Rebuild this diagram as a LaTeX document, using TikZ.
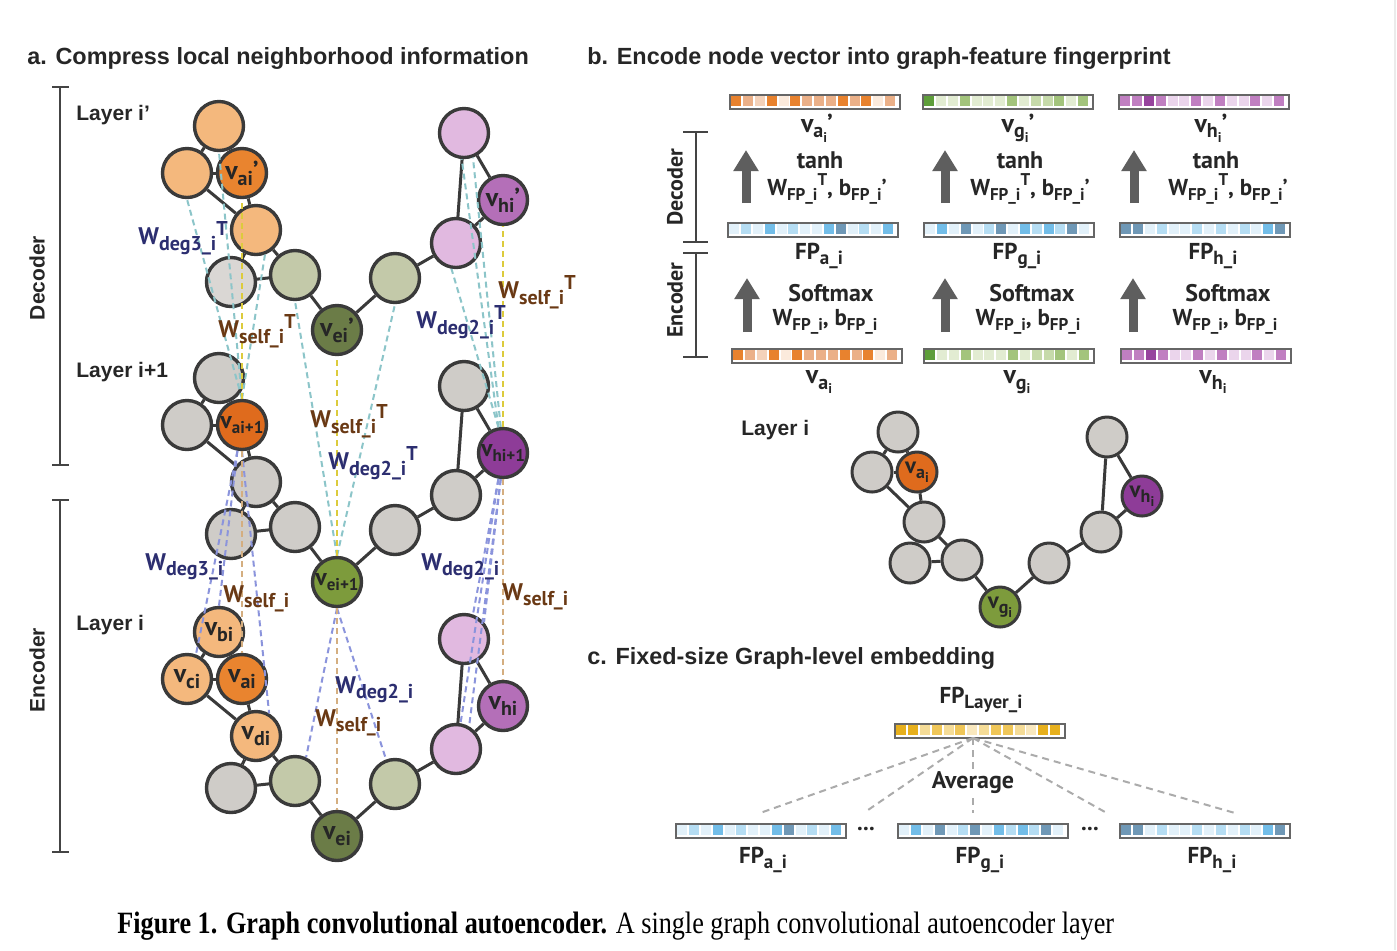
\documentclass[tikz,border=0pt]{standalone}
\usepackage{fontspec}
\setmainfont{Liberation Sans}
\newfontfamily\pts{PT Sans}
\newfontfamily\tms{Liberation Serif}
\usetikzlibrary{arrows.meta,calc}
\definecolor{ndraw}{HTML}{3A3A3A}
\definecolor{labc}{HTML}{262626}
\definecolor{lor}{HTML}{F4B87D}
\definecolor{mor}{HTML}{E9842F}
\definecolor{oor}{HTML}{DF6B1D}
\definecolor{lgr}{HTML}{CFCCC8}
\definecolor{lgrb}{HTML}{DAD7D4}
\definecolor{sage}{HTML}{C3C9A9}
\definecolor{dgrn}{HTML}{6B7C47}
\definecolor{mgrn}{HTML}{7D9B3C}
\definecolor{lpk}{HTML}{E1B9E0}
\definecolor{mpur}{HTML}{B46FB8}
\definecolor{dpur}{HTML}{8E3C98}
\definecolor{teall}{HTML}{8CC5C9}
\definecolor{yell}{HTML}{DCCB3C}
\definecolor{bluel}{HTML}{8B94DC}
\definecolor{tanl}{HTML}{D4AE80}
\definecolor{navyc}{HTML}{2C2E70}
\definecolor{brownc}{HTML}{6A3914}
\definecolor{bargray}{HTML}{666666}
\definecolor{arrgray}{HTML}{5E5E5E}
\definecolor{dgray}{HTML}{444444}
\definecolor{avgray}{HTML}{ABABAB}
% vector cell colours
\definecolor{Oa}{HTML}{E8822E}
\definecolor{Ob}{HTML}{EBB088}
\definecolor{Oc}{HTML}{F4D2BA}
\definecolor{Od}{HTML}{FBEADC}
\definecolor{Ga}{HTML}{5E9E3A}
\definecolor{Gb}{HTML}{A3C47C}
\definecolor{Gc}{HTML}{C6DAAA}
\definecolor{Gd}{HTML}{E2ECD2}
\definecolor{Pa}{HTML}{97449E}
\definecolor{Pb}{HTML}{C07FC1}
\definecolor{Pc}{HTML}{EBD5EC}
\definecolor{Ba}{HTML}{E2F1FA}
\definecolor{Bb}{HTML}{B5DDF3}
\definecolor{Bc}{HTML}{72BDE8}
\definecolor{Bd}{HTML}{6F98B6}
\definecolor{Ya}{HTML}{E7B01D}
\definecolor{Yb}{HTML}{EFC658}
\definecolor{Yc}{HTML}{F5DC97}
\definecolor{Yd}{HTML}{F9E8BE}

\newcommand\fs[1]{\fontsize{#1}{#1}\selectfont}
\newcommand\lowsub[2]{\raisebox{-0.45ex}{\fs{#1}#2}}
\newcommand\highsup[2]{\raisebox{0.8ex}{\fs{#1}#2}}
% node label in left graphs
\newcommand\vl[3][10]{v\lowsub{#1}{#2}#3}
% v_{x_i}
\newcommand\vxi[3]{v\raisebox{-0.45ex}{\fs{#1}#2\raisebox{-0.45ex}{\fs{7}i}}#3}
\newcommand\Wlab[2]{W\lowsub{10}{#1}\highsup{10}{#2}}
\newcommand\FPlab[1]{FP\lowsub{9.5}{#1}}

\tikzset{
  gn/.style={circle, draw=ndraw, line width=1.7pt, minimum size=24.5pt, inner sep=0pt,
     text=labc, font=\pts\bfseries\fs{13}},
  sn/.style={gn, minimum size=20pt, line width=1.5pt, font=\pts\bfseries\fs{11.5}},
  ed/.style={draw=ndraw, line width=1.5pt},
  dteal/.style={draw=teall, dash pattern=on 3pt off 2pt, line width=1pt},
  dyel/.style={dteal, draw=yell},
  dblue/.style={dteal, draw=bluel},
  dtan/.style={dteal, draw=tanl},
  navy/.style={text=navyc, font=\pts\bfseries\fs{12}, inner sep=0pt, anchor=west},
  brown/.style={navy, text=brownc},
  ttl/.style={font=\bfseries\fs{11.7}, inner sep=0pt, anchor=west, text=labc},
  lay/.style={font=\bfseries\fs{10.5}, inner sep=0pt, anchor=west, text=labc},
  side/.style={font=\bfseries\fs{10.5}, inner sep=0pt, rotate=90, text=labc},
  sideb/.style={font=\pts\bfseries\fs{11}, inner sep=0pt, rotate=90, text=labc},
  bk/.style={draw=dgray, line width=0.8pt},
  barbox/.style={rectangle, draw=bargray, line width=1pt, fill=white, minimum width=85pt,
     minimum height=7pt, inner sep=0pt, anchor=north west},
  txb/.style={font=\pts\bfseries\fs{11.5}, inner sep=0pt, text=labc},
  bigarrow/.style={draw=arrgray, line width=4.5pt, -{Triangle[length=10.5pt,width=12pt]}},
  avl/.style={draw=avgray, dash pattern=on 3.5pt off 2.5pt, line width=1pt},
}

\newcommand\vbar[4]{%
  \node[barbox] (#1) at (#2,#3) {};
  \foreach \c [count=\i from 0] in {#4} {
    \pgfmathsetmacro\xa{#2+2.3+\i*11.83}
    \fill[\c] (\xa,#3+2.4) rectangle ++(10,9.2);
  }
}

\begin{document}
\begin{tikzpicture}[x=0.5pt,y=-0.5pt]
\useasboundingbox (0,0) rectangle (1397,950);
\fill[white] (0,0) rectangle (1397,950);
\draw[draw=black!8, line width=1pt] (1395,0) -- (1395,950);

% ---------- titles ----------
\node[ttl] (ta) at (27,58) {a. Compress local neighborhood information};
\node[ttl] (tb) at (587,58) {b. Encode node vector into graph-feature fingerprint};
\node[ttl] (tc) at (587,658) {c. Fixed-size Graph-level embedding};

% ---------- panel a brackets ----------
\coordinate (dk1) at (60,87); \coordinate (dk2) at (60,465);
\draw[bk] (dk1) -- (dk2);
\draw[bk] (52,87) -- (69,87); \draw[bk] (52,465) -- (69,465);
\coordinate (ek1) at (60,500); \coordinate (ek2) at (60,852);
\draw[bk] (ek1) -- (ek2);
\draw[bk] (52,500) -- (69,500); \draw[bk] (52,852) -- (69,852);
\node[side] (decA) at (37,278) {Decoder};
\node[side] (encA) at (37,670) {Encoder};
\node[lay] (lA) at (76,115) {Layer i’};
\node[lay] (lB) at (76,372) {Layer i+1};
\node[lay] (lC) at (76,625) {Layer i};

% ---------- Layer i' ----------
\node[gn, fill=lor] (At) at (219,126) {};
\node[gn, fill=lor] (Al) at (187,173) {};
\node[gn, fill=mor] (Aa) at (242,173) {\vl{ai}{’}};
\node[gn, fill=lor] (Am) at (256,230) {};
\node[gn, fill=lgrb] (Abl) at (231,282) {};
\node[gn, fill=sage] (Abr) at (295,275) {};
\node[gn, fill=dgrn] (Ae) at (337,330) {\vl{ei}{’}};
\node[gn, fill=sage] (Ar) at (395,278) {};
\node[gn, fill=lpk] (Ar2) at (456,243) {};
\node[gn, fill=mpur] (Ah) at (503,200) {\vl{hi}{’}};
\node[gn, fill=lpk] (Atr) at (464,133) {};

% ---------- Layer i+1 ----------
\node[gn, fill=lgr] (Bt) at (219,378) {};
\node[gn, fill=lgr] (Bl) at (187,425) {};
\node[gn, fill=oor, font=\pts\bfseries\fs{12}] (Ba) at (242,425) {\vl[8.5]{ai+1}{}};
\node[gn, fill=lgr] (Bm) at (256,482) {};
\node[gn, fill=lgr] (Bbl) at (231,534) {};
\node[gn, fill=lgr] (Bbr) at (295,527) {};
\node[gn, fill=mgrn, font=\pts\bfseries\fs{12}] (Be) at (337,582) {\vl[8.5]{ei+1}{}};
\node[gn, fill=lgr] (Br) at (395,530) {};
\node[gn, fill=lgr] (Br2) at (456,495) {};
\node[gn, fill=dpur, font=\pts\bfseries\fs{12}] (Bh) at (503,453) {\vl[8.5]{hi+1}{}};
\node[gn, fill=lgr] (Btr) at (464,386) {};

% ---------- Layer i ----------
\node[gn, fill=lor] (Ct) at (219,632) {\vl{bi}{}};
\node[gn, fill=lor] (Cl) at (187,679) {\vl{ci}{}};
\node[gn, fill=mor] (Ca) at (242,679) {\vl{ai}{}};
\node[gn, fill=lor] (Cm) at (256,736) {\vl{di}{}};
\node[gn, fill=lgr] (Cbl) at (231,788) {};
\node[gn, fill=sage] (Cbr) at (295,781) {};
\node[gn, fill=dgrn] (Ce) at (337,836) {\vl{ei}{}};
\node[gn, fill=sage] (Cr) at (395,784) {};
\node[gn, fill=lpk] (Cr2) at (456,749) {};
\node[gn, fill=mpur] (Ch) at (503,706) {\vl{hi}{}};
\node[gn, fill=lpk] (Ctr) at (464,639) {};

% ---------- Layer i (panel b) ----------
\node[lay] (lD) at (741,430) {Layer i};
\node[sn, fill=lgr] (Dt) at (898,432) {};
\node[sn, fill=lgr] (Dl) at (872,472) {};
\node[sn, fill=oor] (Da) at (917,472) {\vxi{9}{a}{}};
\node[sn, fill=lgr] (Dm) at (924,522) {};
\node[sn, fill=lgr] (Dbl) at (910,563) {};
\node[sn, fill=lgr] (Dbr) at (962,560) {};
\node[sn, fill=mgrn] (De) at (1000,607) {\vxi{9}{g}{}};
\node[sn, fill=lgr] (Dr) at (1049,563) {};
\node[sn, fill=lgr] (Dr2) at (1101,532) {};
\node[sn, fill=dpur] (Dh) at (1142,496) {\vxi{9}{h}{}};
\node[sn, fill=lgr] (Dtr) at (1107,437) {};

% edges
\foreach \p in {A,B,C,D}{
  \foreach \u/\v in {t/l,t/a,l/a,l/m,a/m,m/bl,m/br,bl/br,br/e,e/r,r/r2,r2/h,r2/tr,tr/h}{
    \draw[ed] (\p\u) -- (\p\v);
  }
}

% ---------- dashed links: decoder ----------
\draw[dteal] (Ba.north) -- (Al.south);
\draw[dteal] (Ba.north) -- (At.south);
\draw[dteal] (Ba.north) -- (Am.-70);
\draw[dyel] (Ba.north) -- (Aa.south);
\draw[dteal] (Be.north) -- (Abr.south);
\draw[dteal] (Be.north) -- (Ar.south);
\draw[dyel] (Be.north) -- (Ae.south);
\draw[dteal] (Bh.100) -- (Atr.-95);
\draw[dteal] (Bh.95) -- (Atr.-70);
\draw[dteal] (Bh.100) -- (Ar2.-100);
\draw[dyel] (Bh.north) -- (Ah.south);
% ---------- dashed links: encoder ----------
\draw[dblue] (Ba.-100) -- (Ct.north);
\draw[dblue] (Ba.-100) -- (Cl.70);
\draw[dblue] (Ba.-90) -- (Cm.60);
\draw[dtan] (Ba.south) -- (Ca.north);
\draw[dblue] (Be.south) -- (Cbr.65);
\draw[dblue] (Be.south) -- (Cr.110);
\draw[dtan] (Be.south) -- (Ce.north);
\draw[dblue] (Bh.-100) -- (Ctr.70);
\draw[dblue] (Bh.-95) -- (Ctr.40);
\draw[dblue] (Bh.-100) -- (Cr2.80);
\draw[dblue] (Bh.-95) -- (Cr2.60);
\draw[dtan] (Bh.south) -- (Ch.north);

% ---------- W labels ----------
\node[navy] (w1) at (138,238) {\Wlab{deg3\_i}{T}};
\node[brown] (w2) at (218,331) {\Wlab{self\_i}{T}};
\node[navy] (w3) at (416,322) {\Wlab{deg2\_i}{T}};
\node[brown] (w4) at (498,292) {\Wlab{self\_i}{T}};
\node[brown] (w5) at (310,421) {\Wlab{self\_i}{T}};
\node[navy] (w6) at (328,463) {\Wlab{deg2\_i}{T}};
\node[navy] (w7) at (145,567) {\Wlab{deg3\_i}{}};
\node[brown] (w8) at (223,599) {\Wlab{self\_i}{}};
\node[navy] (w9) at (421,567) {\Wlab{deg2\_i}{}};
\node[brown] (w10) at (502,597) {\Wlab{self\_i}{}};
\node[navy] (w11) at (335,690) {\Wlab{deg2\_i}{}};
\node[brown] (w12) at (315,723) {\Wlab{self\_i}{}};

% ---------- panel b ----------
\coordinate (bd1) at (696,132); \coordinate (bd2) at (696,242);
\draw[bk] (bd1) -- (bd2);
\draw[bk] (683,132) -- (708,132); \draw[bk] (683,242) -- (708,242);
\coordinate (be1) at (696,253); \coordinate (be2) at (696,357);
\draw[bk] (be1) -- (be2);
\draw[bk] (683,253) -- (708,253); \draw[bk] (683,357) -- (708,357);
\node[sideb] (decB) at (675,187) {Decoder};
\node[sideb] (encB) at (675,300) {Encoder};

\vbar{vaT}{729}{94}{Oa,Ob,Oc,Oa,Od,Oa,Ob,Ob,Ob,Oa,Ob,Oa,Od,Ob}
\vbar{vgT}{922}{94}{Ga,Gd,Gd,Gb,Gd,Gd,Gd,Gb,Gd,Gc,Gc,Gb,Gd,Gb}
\vbar{vhT}{1118}{94}{Pb,Pb,Pa,Pb,Pc,Pc,Pb,Pc,Pb,Pc,Pc,Pb,Pc,Pb}
\vbar{fpa}{727}{222}{Ba,Bb,Ba,Bc,Ba,Bb,Ba,Ba,Bc,Bd,Ba,Bb,Ba,Bc}
\vbar{fpg}{923}{222}{Ba,Bc,Ba,Bd,Ba,Bb,Bd,Ba,Bc,Bb,Bc,Bb,Bd,Ba}
\vbar{fph}{1119}{222}{Bd,Bd,Ba,Bb,Ba,Ba,Bb,Ba,Bb,Ba,Bb,Ba,Bc,Bd}
\vbar{vaB}{731}{348}{Oa,Ob,Oc,Oa,Od,Oa,Ob,Ob,Ob,Oa,Ob,Oa,Od,Ob}
\vbar{vgB}{923}{348}{Ga,Gd,Gd,Gb,Gd,Gd,Gd,Gb,Gd,Gc,Gc,Gb,Gd,Gb}
\vbar{vhB}{1120}{348}{Pb,Pb,Pa,Pb,Pc,Pc,Pb,Pc,Pb,Pc,Pc,Pb,Pc,Pb}

\node[txb, font=\pts\bfseries\fs{13}] (la1) at (817,128) {\vxi{10}{a}{’}};
\node[txb, font=\pts\bfseries\fs{13}] (la2) at (1018,128) {\vxi{10}{g}{’}};
\node[txb, font=\pts\bfseries\fs{13}] (la3) at (1211,128) {\vxi{10}{h}{’}};
\node[txb, font=\pts\bfseries\fs{12}] (th1) at (820,160) {tanh};
\node[txb, font=\pts\bfseries\fs{12}] (th2) at (1020,160) {tanh};
\node[txb, font=\pts\bfseries\fs{12}] (th3) at (1216,160) {tanh};
\node[txb] (wt1) at (827,189) {W\lowsub{8.5}{FP\_i}\highsup{8.5}{T}, b\lowsub{8.5}{FP\_i}’};
\node[txb] (wt2) at (1030,189) {W\lowsub{8.5}{FP\_i}\highsup{8.5}{T}, b\lowsub{8.5}{FP\_i}’};
\node[txb] (wt3) at (1228,189) {W\lowsub{8.5}{FP\_i}\highsup{8.5}{T}, b\lowsub{8.5}{FP\_i}’};
\node[txb] (fl1) at (819,256) {\FPlab{a\_i}};
\node[txb] (fl2) at (1017,256) {\FPlab{g\_i}};
\node[txb] (fl3) at (1213,256) {\FPlab{h\_i}};
\node[txb, font=\pts\bfseries\fs{12}] (sm1) at (831,293) {Softmax};
\node[txb, font=\pts\bfseries\fs{12}] (sm2) at (1032,293) {Softmax};
\node[txb, font=\pts\bfseries\fs{12}] (sm3) at (1228,293) {Softmax};
\node[txb] (wb1) at (825,322) {W\lowsub{8.5}{FP\_i}, b\lowsub{8.5}{FP\_i}};
\node[txb] (wb2) at (1028,322) {W\lowsub{8.5}{FP\_i}, b\lowsub{8.5}{FP\_i}};
\node[txb] (wb3) at (1225,322) {W\lowsub{8.5}{FP\_i}, b\lowsub{8.5}{FP\_i}};
\node[txb, font=\pts\bfseries\fs{13}] (lb1) at (819,382) {\vxi{10}{a}{}};
\node[txb, font=\pts\bfseries\fs{13}] (lb2) at (1017,382) {\vxi{10}{g}{}};
\node[txb, font=\pts\bfseries\fs{13}] (lb3) at (1213,382) {\vxi{10}{h}{}};

\coordinate (a1s) at (746,203); \coordinate (a1e) at (746,150);
\coordinate (a2s) at (945,203); \coordinate (a2e) at (945,150);
\coordinate (a3s) at (1134,203); \coordinate (a3e) at (1134,150);
\coordinate (a4s) at (747,332); \coordinate (a4e) at (747,278);
\coordinate (a5s) at (945,332); \coordinate (a5e) at (945,278);
\coordinate (a6s) at (1133,332); \coordinate (a6e) at (1133,278);
\foreach \k in {1,...,6}{ \draw[bigarrow] (a\k s) -- (a\k e); }

% ---------- panel c ----------
\node[txb] (fpl) at (981,700) {\FPlab{Layer\_i}};
\vbar{fpL}{894}{723}{Ya,Ya,Yc,Yb,Yc,Yb,Yd,Yc,Yb,Yb,Yc,Yd,Ya,Ya}
\vbar{fcA}{675}{823}{Ba,Bb,Ba,Bc,Ba,Bb,Ba,Ba,Bc,Bd,Ba,Bb,Ba,Bc}
\vbar{fcG}{897}{823}{Ba,Bc,Ba,Bd,Ba,Bb,Bd,Ba,Bc,Bb,Bc,Bb,Bd,Ba}
\vbar{fcH}{1119}{823}{Bd,Bd,Ba,Bb,Ba,Ba,Bb,Ba,Bb,Ba,Bb,Ba,Bc,Bd}
\coordinate (avs) at (973,738);
\coordinate (av1) at (760,813);
\coordinate (av2) at (868,810);
\coordinate (av3) at (973,813);
\coordinate (av4) at (1105,812);
\coordinate (av5) at (1235,813);
\foreach \k in {1,...,5}{ \draw[avl] (avs) -- (av\k); }
\node[txb, font=\pts\bfseries\fs{12}, fill=white, inner sep=1pt] (avg) at (973,783) {Average};
\node[txb] (dt1) at (866,829) {...};
\node[txb] (dt2) at (1090,829) {...};
\node[txb] (fc1) at (763,860) {\FPlab{a\_i}};
\node[txb] (fc2) at (980,860) {\FPlab{g\_i}};
\node[txb] (fc3) at (1212,860) {\FPlab{h\_i}};

% ---------- caption ----------
\node[anchor=west, inner sep=0pt, text=black] (cap) at (117,926)
  {\tms\fs{15.5}\scalebox{0.845}[1]{\textbf{Figure 1. Graph convolutional autoencoder.} A single graph convolutional autoencoder layer}};
\end{tikzpicture}
\end{document}
